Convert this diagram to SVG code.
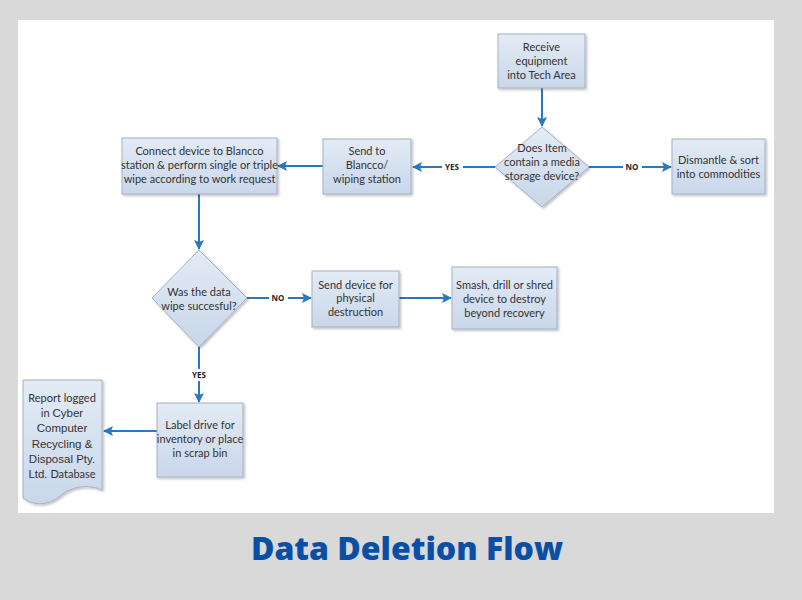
<svg xmlns="http://www.w3.org/2000/svg" width="802" height="600" viewBox="0 0 802 600">
<defs>
<linearGradient id="g" x1="0" y1="0" x2="0" y2="1">
<stop offset="0" stop-color="#e3ebf5"/>
<stop offset="1" stop-color="#c9d7ea"/>
</linearGradient>
<filter id="sh" x="-10%" y="-10%" width="130%" height="130%">
<feDropShadow dx="1.5" dy="1.5" stdDeviation="1" flood-color="#000" flood-opacity="0.25"/>
</filter>
<marker id="ah" viewBox="0 0 10 10" refX="9" refY="5" markerWidth="10" markerHeight="10" markerUnits="userSpaceOnUse" orient="auto">
<path d="M0,0 L10,5 L0,10 L2,5 Z" fill="#2a78c0"/>
</marker>
</defs>
<style>
.n{fill:url(#g);stroke:#a3b1c4;stroke-width:1;filter:url(#sh)}
.t{font-family:Lato,"Open Sans",sans-serif;font-size:11px;fill:#333;text-anchor:middle}
.a{font-family:"Liberation Sans",Arial,sans-serif;font-size:11.5px}
.c{fill:none;stroke:#2a78c0;stroke-width:2}
.l{font-family:"Open Sans",sans-serif;font-size:8px;font-weight:bold;fill:#222;text-anchor:middle}
</style>
<rect width="802" height="600" fill="#d9d9d9"/>
<rect x="18" y="20" width="756" height="493" fill="#fff"/>

<g id="connectors">
<line class="c" x1="542" y1="88" x2="542" y2="126" marker-end="url(#ah)"/>
<line class="c" x1="589" y1="167" x2="671" y2="167" marker-end="url(#ah)"/>
<line class="c" x1="495" y1="167" x2="413" y2="167" marker-end="url(#ah)"/>
<line class="c" x1="323" y1="166" x2="278" y2="166" marker-end="url(#ah)"/>
<line class="c" x1="199" y1="194" x2="199" y2="249" marker-end="url(#ah)"/>
<line class="c" x1="247" y1="298" x2="311" y2="298" marker-end="url(#ah)"/>
<line class="c" x1="399" y1="298" x2="451" y2="298" marker-end="url(#ah)"/>
<line class="c" x1="199" y1="347" x2="199" y2="369"/>
<line class="c" x1="199" y1="381" x2="199" y2="402" marker-end="url(#ah)"/>
<line class="c" x1="157" y1="431" x2="104" y2="431" marker-end="url(#ah)"/>
<rect x="623" y="162" width="19" height="10" fill="#fff"/>
<text class="l" x="632" y="170">NO</text>
<rect x="442" y="162" width="21" height="10" fill="#fff"/>
<text class="l" x="452" y="170">YES</text>
<rect x="269" y="293" width="19" height="10" fill="#fff"/>
<text class="l" x="278" y="301">NO</text>
<text class="l" x="199" y="378">YES</text>
</g>

<g id="receive">
<rect class="n" x="498" y="34" width="87" height="54"/>
<text class="t" x="541.5" y="51">Receive</text>
<text class="t" x="541.5" y="65">equipment</text>
<text class="t" x="541.5" y="79">into Tech Area</text>
</g>

<g id="media-decision">
<polygon class="n" points="542,127 589,167 542,207 495,167"/>
<text class="t" x="542" y="152">Does Item</text>
<text class="t" x="542" y="166">contain a media</text>
<text class="t" x="542" y="180">storage device?</text>
</g>

<g id="dismantle">
<rect class="n" x="672" y="139" width="93" height="55"/>
<text class="t" x="718.5" y="164">Dismantle &amp; sort</text>
<text class="t" x="718.5" y="178">into commodities</text>
</g>

<g id="send-blancco">
<rect class="n" x="323" y="139" width="88" height="55"/>
<text class="t" x="367" y="155">Send to</text>
<text class="t" x="367" y="169">Blancco/</text>
<text class="t" x="367" y="183">wiping station</text>
</g>

<g id="connect">
<rect class="n" x="122" y="138" width="155" height="56"/>
<text class="t" x="199.5" y="155">Connect device to Blancco</text>
<text class="t" x="199.5" y="169">station &amp; perform single or triple</text>
<text class="t" x="199.5" y="183">wipe according to work request</text>
</g>

<g id="wipe-decision">
<polygon class="n" points="199,250 247,298 199,347 152,298"/>
<text class="t" x="199" y="296">Was the data</text>
<text class="t" x="199" y="310">wipe succesful?</text>
</g>

<g id="send-destruction">
<rect class="n" x="312" y="271" width="87" height="56"/>
<text class="t" x="355.5" y="289">Send device for</text>
<text class="t" x="355.5" y="302">physical</text>
<text class="t" x="355.5" y="316">destruction</text>
</g>

<g id="smash">
<rect class="n" x="452" y="267" width="105" height="62"/>
<text class="t" x="504.5" y="289">Smash, drill or shred</text>
<text class="t" x="504.5" y="303">device to destroy</text>
<text class="t" x="504.5" y="317">beyond recovery</text>
</g>

<g id="label-drive">
<rect class="n" x="157" y="403" width="86" height="74"/>
<text class="t" x="200" y="429">Label drive for</text>
<text class="t" x="200" y="443">inventory or place</text>
<text class="t" x="200" y="457">in scrap bin</text>
</g>

<g id="report">
<path class="n" d="M23,380 H102 V490 C88,484 72,486 60,496 C48,506 34,506 23,498 Z"/>
<text class="t" x="62" y="402">Report logged</text>
<text class="t" x="62" y="417">in <tspan class="a">Cyber</tspan></text>
<text class="t a" x="62" y="432">Computer</text>
<text class="t a" x="62" y="448">Recycling &amp;</text>
<text class="t a" x="62" y="463">Disposal Pty.</text>
<text class="t" x="62" y="478"><tspan class="a">Ltd.</tspan> Database</text>
</g>

<text x="407" y="560" font-family="'Open Sans',sans-serif" font-weight="800" font-size="32" fill="#0b4ea6" text-anchor="middle">Data Deletion Flow</text>
</svg>
